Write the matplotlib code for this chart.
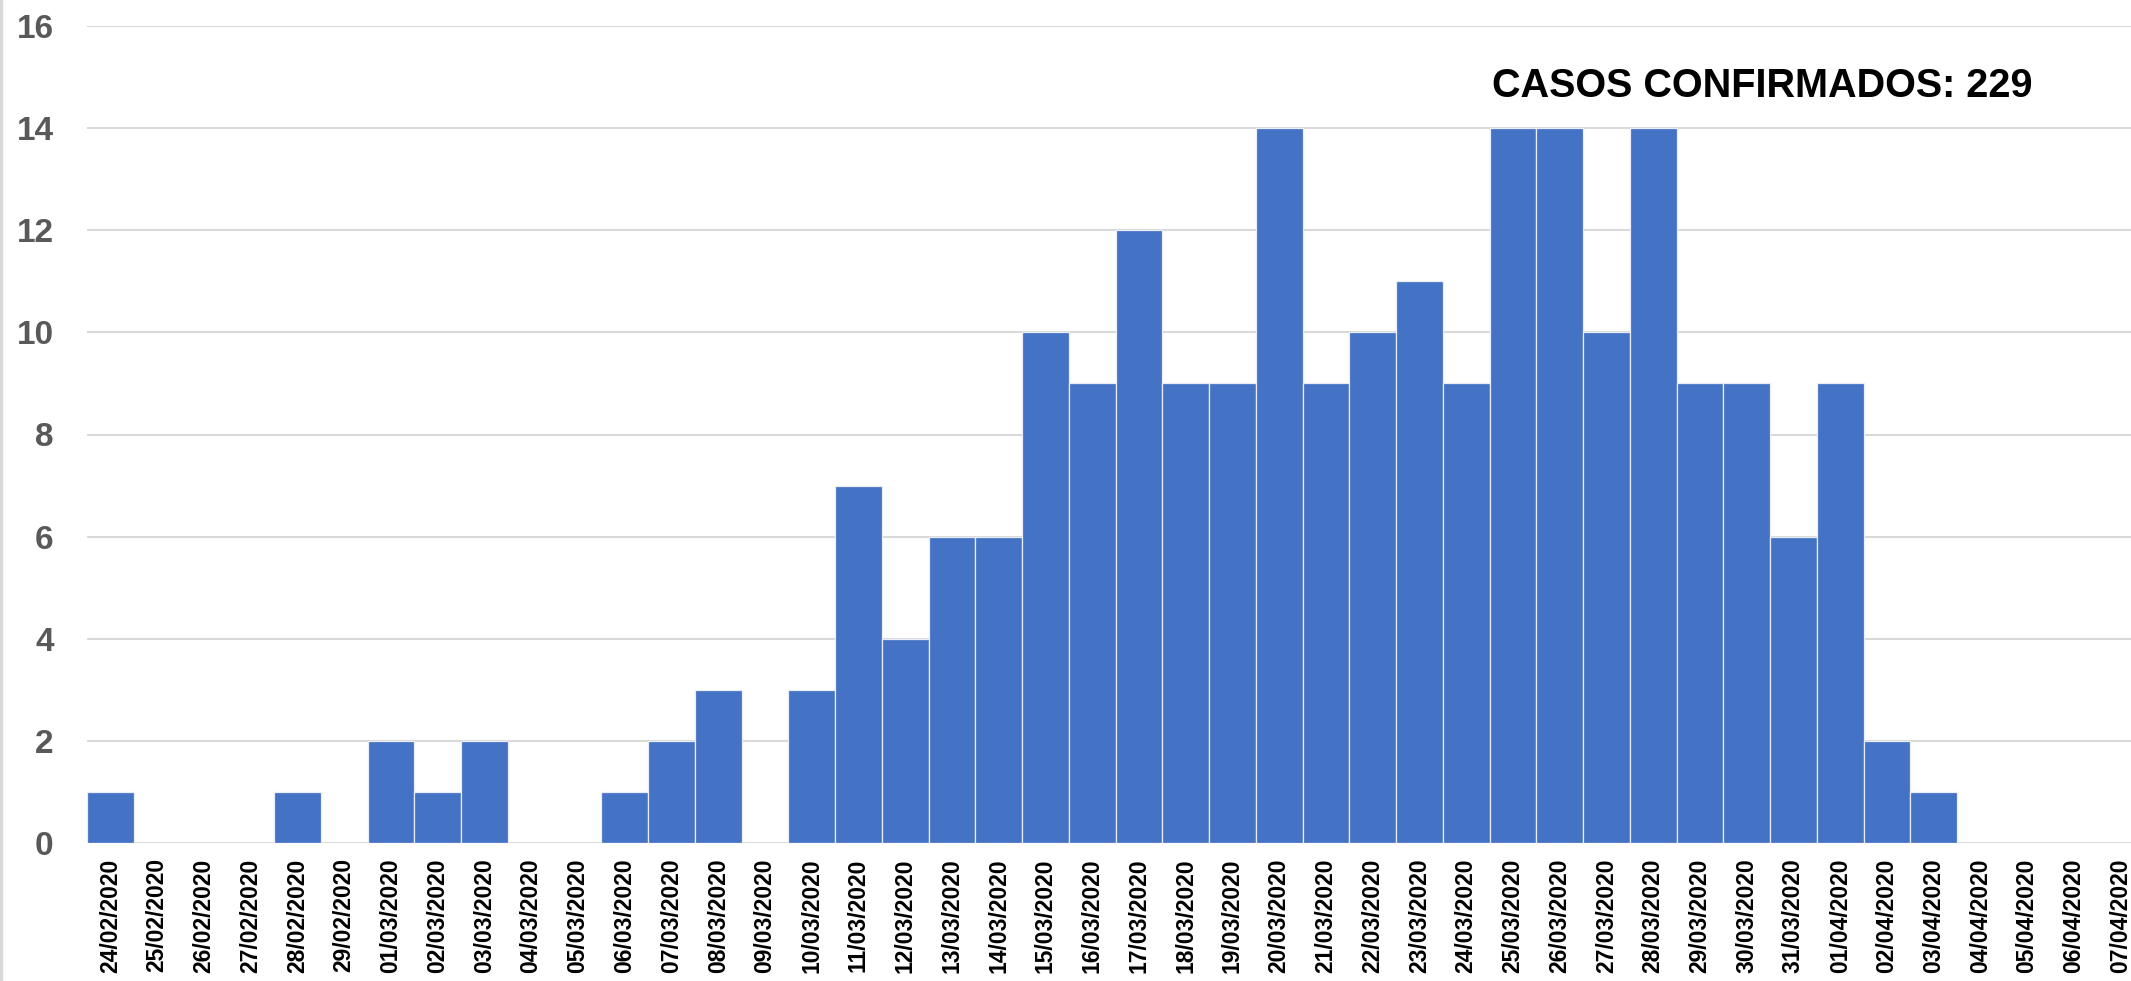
import matplotlib
matplotlib.use('Agg')
import matplotlib.pyplot as plt
import numpy as np
from matplotlib.lines import Line2D

# daily confirmed cases
dates = ['24/02/2020', '25/02/2020', '26/02/2020', '27/02/2020', '28/02/2020', '29/02/2020',
         '01/03/2020', '02/03/2020', '03/03/2020', '04/03/2020', '05/03/2020', '06/03/2020',
         '07/03/2020', '08/03/2020', '09/03/2020', '10/03/2020', '11/03/2020', '12/03/2020',
         '13/03/2020', '14/03/2020', '15/03/2020', '16/03/2020', '17/03/2020', '18/03/2020',
         '19/03/2020', '20/03/2020', '21/03/2020', '22/03/2020', '23/03/2020', '24/03/2020',
         '25/03/2020', '26/03/2020', '27/03/2020', '28/03/2020', '29/03/2020', '30/03/2020',
         '31/03/2020', '01/04/2020', '02/04/2020', '03/04/2020', '04/04/2020', '05/04/2020',
         '06/04/2020', '07/04/2020']
cases = [1, 0, 0, 0, 1, 0,
         2, 1, 2, 0, 0, 1,
         2, 3, 0, 3, 7, 4,
         6, 6, 10, 9, 12, 9,
         9, 14, 9, 10, 11, 9,
         14, 14, 10, 14, 9, 9,
         6, 9, 2, 1, 0, 0,
         0, 0]
yticks = [0, 2, 4, 6, 8, 10, 12, 14, 16]
title = 'CASOS CONFIRMADOS: %d' % sum(cases)

W, H = 2131, 981
fig = plt.figure(figsize=(W / 100, H / 100), dpi=100)
ax = fig.add_axes([87 / W, 1 - 843 / H, (2144 - 87) / W, (843 - 26) / H])

x = np.arange(len(cases))
ax.bar(x, cases, width=1.0, color='#4472C4', edgecolor='#e8edf7', linewidth=0.9, zorder=3)

ax.set_xlim(-0.5, len(cases) - 0.5)
ax.set_ylim(0, 16)
ax.set_yticks(yticks)
ax.set_yticklabels([str(v) for v in yticks], fontsize=24, fontweight='bold',
                   color='#595959', family=['Liberation Sans', 'DejaVu Sans'])
ax.set_xticks(x)
ax.set_xticklabels(dates, rotation=90, fontsize=16.5, fontweight='bold', color='black',
                   family=['Liberation Sans', 'DejaVu Sans'])
ax.tick_params(axis='x', length=0, pad=11)
ax.tick_params(axis='y', length=0, pad=24)
ax.grid(axis='y', color='#d9d9d9', linewidth=1.5, zorder=0)
for s in ax.spines.values():
    s.set_visible(False)

fig.text(1762 / W, 1 - 97 / H, title, fontsize=28.5, fontweight='bold', color='black',
         va='baseline', ha='center', family=['Liberation Sans', 'DejaVu Sans'])

# thin grey border on the left edge
fig.add_artist(Line2D([1 / W, 1 / W], [0, 1], color='#d9d9d9', linewidth=2.5,
                      transform=fig.transFigure))

fig.savefig('out.png', dpi=100)
